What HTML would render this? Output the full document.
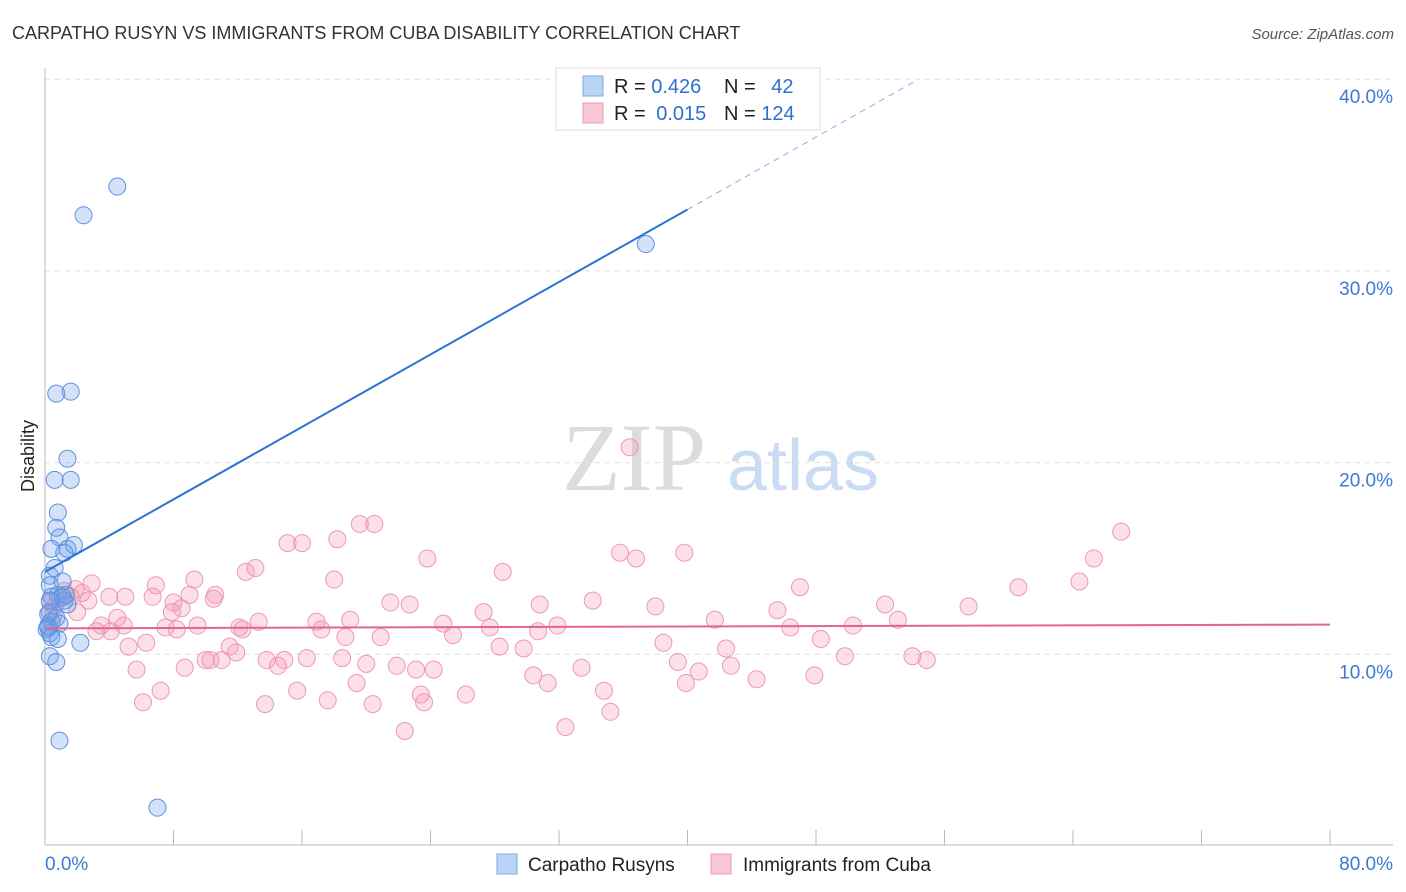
<!DOCTYPE html>
<html><head><meta charset="utf-8"><style>
body{margin:0;background:#fff;font-family:"Liberation Sans",sans-serif}
svg{display:block}
</style></head><body>
<svg id="chart" width="1406" height="892" viewBox="0 0 1406 892">
<text x="12" y="39" font-size="18" fill="#333">CARPATHO RUSYN VS IMMIGRANTS FROM CUBA DISABILITY CORRELATION CHART</text>
<text x="1394" y="39" font-size="15" fill="#555" font-style="italic" text-anchor="end">Source: ZipAtlas.com</text>
<g>
<text x="634" y="490" font-size="96" font-family="Liberation Serif,serif" fill="#dcdcdc" text-anchor="middle">ZIP</text>
<text x="803" y="490" font-size="72" fill="#c9dcf2" text-anchor="middle">atlas</text>
</g>
<g id="grid"></g>
<g id="axes"></g>
<g id="marks"></g>
<text transform="translate(34,456) rotate(-90)" font-size="18" fill="#222" text-anchor="middle">Disability</text>
<g>
<rect x="556" y="68" width="264" height="62" fill="#fff" stroke="#ddd"/>
<rect x="583" y="76" width="20" height="20" fill="#b9d3f5" stroke="#7ea9e6"/>
<rect x="583" y="103" width="20" height="20" fill="#f9c6d5" stroke="#ee9bb5"/>
<text x="614" y="93" font-size="20" fill="#222">R = <tspan fill="#2f6fd0">0.426</tspan></text>
<text x="724" y="93" font-size="20" fill="#222">N = <tspan fill="#2f6fd0" dx="10">42</tspan></text>
<text x="614" y="120" font-size="20" fill="#222">R = <tspan fill="#2f6fd0" dx="5">0.015</tspan></text>
<text x="724" y="120" font-size="20" fill="#222">N = <tspan fill="#2f6fd0">124</tspan></text>
</g>
<g>
<rect x="497" y="854" width="20" height="20" fill="#b9d3f5" stroke="#7ea9e6"/>
<text x="528" y="871" font-size="19" fill="#222">Carpatho Rusyns</text>
<rect x="711" y="854" width="20" height="20" fill="#f9c6d5" stroke="#ee9bb5"/>
<text x="743" y="871" font-size="19" fill="#222">Immigrants from Cuba</text>
</g>
</svg>
<script>
const yTicks=[10,20,30,40];
const yTickLabels=["10.0%","20.0%","30.0%","40.0%"];
const xTickCount=10;
const xMin=0,xMax=80;
const blueX=[4.5,2.4,37.4,0.7,1.6,1.4,0.6,1.6,0.8,0.7,0.9,0.4,1.4,1.8,1.2,0.6,0.3,1.1,0.3,0.8,0.4,1.2,1.4,0.3,0.7,0.4,0.2,0.9,0.1,0.3,0.4,0.8,2.2,0.3,0.7,0.9,7.0,0.2,1.3,0.3,1.1,0.2];
const blueY=[34.4,32.9,31.4,23.6,23.7,20.2,19.1,19.1,17.4,16.6,16.1,15.5,15.5,15.7,15.3,14.5,14.1,13.8,13.6,13.1,13.0,12.8,12.6,12.2,11.9,11.7,11.5,11.6,11.3,11.1,10.9,10.8,10.6,9.9,9.6,5.5,2.0,12.1,13.1,12.8,13.0,11.4];
const pinkX=[36.4,67.0,19.6,20.5,15.1,16.0,18.2,23.8,35.8,39.8,36.8,65.3,13.1,12.5,28.5,9.3,18.0,6.9,2.9,47.0,60.6,64.4,1.9,2.3,1.2,4.0,5.0,6.7,9.0,10.6,10.5,2.7,0.9,34.1,21.5,22.7,30.8,38.0,52.3,57.5,4.5,7.9,8.5,16.9,19.0,27.3,45.6,53.1,3.5,4.9,7.5,8.2,9.5,13.3,12.1,12.3,17.2,24.8,27.7,31.9,41.7,46.4,50.3,3.2,4.1,18.7,20.9,25.4,30.7,5.2,6.3,11.5,11.9,28.3,29.8,38.5,42.4,48.3,5.7,8.7,10.0,10.3,11.0,13.8,14.5,14.9,16.3,18.5,20.0,21.9,23.1,24.2,33.4,39.4,42.7,49.8,54.0,54.9,30.4,31.3,19.4,39.9,40.7,44.3,47.9,7.2,15.7,23.4,26.2,34.8,6.1,13.7,17.6,20.4,23.6,35.2,22.4,32.4,0.3,0.6,1.6,8.0,2.0,0.5];
const pinkY=[20.8,16.4,16.8,16.8,15.8,15.8,16.0,15.0,15.3,15.3,15.0,15.0,14.5,14.3,14.3,13.9,13.9,13.6,13.7,13.5,13.5,13.8,13.4,13.2,13.3,13.0,13.0,13.0,13.1,13.1,12.9,12.8,12.9,12.8,12.7,12.6,12.6,12.5,12.6,12.5,11.9,12.2,12.4,11.7,11.8,12.2,12.3,11.8,11.5,11.5,11.4,11.3,11.5,11.7,11.4,11.3,11.3,11.6,11.4,11.5,11.8,11.4,11.5,11.2,11.2,10.9,10.9,11.0,11.2,10.4,10.6,10.4,10.1,10.4,10.3,10.6,10.3,10.8,9.2,9.3,9.7,9.7,9.7,9.7,9.4,9.7,9.8,9.8,9.5,9.4,9.2,9.2,9.3,9.6,9.4,9.9,9.9,9.7,8.9,8.5,8.5,8.5,9.1,8.7,8.9,8.1,8.1,7.9,7.9,8.1,7.5,7.4,7.6,7.4,7.5,7.0,6.0,6.2,12.7,12.5,13.0,12.7,12.2,12.0];
const blueTrend=[14.3,0.4725];
const pinkTrend=[11.35,0.0025];
const blueSolidEnd=40, blueDashEnd=54.2;

const X0=45,X1=1330,YB=846,PX=19.17;
const sx=v=>X0+(v-xMin)/(xMax-xMin)*(X1-X0);
const sy=v=>YB-v*PX;
const NS="http://www.w3.org/2000/svg";
function mk(t,a,p){const e=document.createElementNS(NS,t);for(const k in a)e.setAttribute(k,a[k]);p.appendChild(e);return e;}
const grid=document.getElementById('grid'),axes=document.getElementById('axes'),marks=document.getElementById('marks');
yTicks.forEach((t,i)=>{
 const l=mk('line',{x1:X0,x2:1393,y1:sy(t),y2:sy(t),stroke:'#ddd','stroke-dasharray':'5,5'},grid);
 
 
 const tx=mk('text',{x:1393,y:sy(t)+24,'font-size':19,fill:'#3b78d8','text-anchor':'end'},axes);
 tx.textContent=yTickLabels[i];
 
 
});
let a=mk('line',{x1:X0,x2:X0,y1:68,y2:845,stroke:'#bbb'},axes);


a=mk('line',{x1:X0,x2:1393,y1:845,y2:845,stroke:'#bbb'},axes);


for(let i=0;i<=xTickCount;i++){
 const x=sx(xMin+i*(xMax-xMin)/xTickCount);
 const t=mk('line',{x1:x,x2:x,y1:830,y2:845,stroke:'#bbb'},axes);
 
 
}
let xl=mk('text',{x:45,y:870,'font-size':19,fill:'#3b78d8'},axes);xl.textContent="0.0%";


xl=mk('text',{x:1393,y:870,'font-size':19,fill:'#3b78d8','text-anchor':'end'},axes);xl.textContent="80.0%";


pinkX.forEach((x,i)=>{
 const c=mk('circle',{cx:sx(x),cy:sy(pinkY[i]),r:8.5,fill:'rgba(244,150,180,0.3)',stroke:'#ec9ab4','stroke-width':1},marks);
 
 
});
blueX.forEach((x,i)=>{
 const c=mk('circle',{cx:sx(x),cy:sy(blueY[i]),r:8.5,fill:'rgba(110,160,235,0.3)',stroke:'#5d92dd','stroke-width':1},marks);
 
 
});
const bf=x=>blueTrend[0]+blueTrend[1]*x, pf=x=>pinkTrend[0]+pinkTrend[1]*x;
let ln=mk('line',{x1:sx(0),y1:sy(bf(0)),x2:sx(blueSolidEnd),y2:sy(bf(blueSolidEnd)),stroke:'#2a72d6','stroke-width':2},marks);


ln=mk('line',{x1:sx(blueSolidEnd),y1:sy(bf(blueSolidEnd)),x2:sx(blueDashEnd),y2:sy(bf(blueDashEnd)),stroke:'#8ab0e6','stroke-width':1,'stroke-dasharray':'6,5'},marks);


ln=mk('line',{x1:sx(0),y1:sy(pf(0)),x2:sx(80),y2:sy(pf(80)),stroke:'#e4648f','stroke-width':2},marks);


</script>
</body></html>
